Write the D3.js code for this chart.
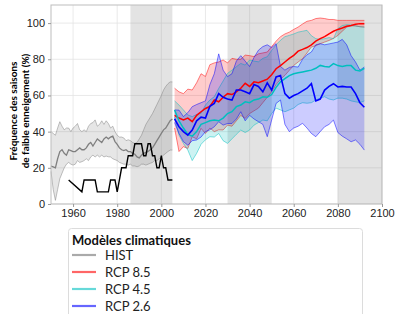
<!DOCTYPE html>
<html>
<head>
<meta charset="utf-8">
<script src="https://cdn.jsdelivr.net/npm/d3@7"></script>
<style>
  body { margin: 0; background: #fff; }
  svg { display: block; }
</style>
</head>
<body>
<svg width="397" height="314"></svg>
<script>
// historical period
var histYears = [1950,1951,1952,1953,1954,1955,1956,1957,1958,1959,
  1960,1961,1962,1963,1964,1965,1966,1967,1968,1969,
  1970,1971,1972,1973,1974,1975,1976,1977,1978,1979,
  1980,1981,1982,1983,1984,1985,1986,1987,1988,1989,
  1990,1991,1992,1993,1994,1995,1996,1997,1998,1999,
  2000,2001,2002,2003,2004,2005]
var histMd = [21,20.5,20,25,29,30,28,27,30,29.5, 29,29,30,31,30,30,31,33,34,32,
  34,36,35,34,36,37,36,37,37.5,34.5, 33,31,30,29.5,30,29,29,28,27.5,26,
  25.5,27,28,28.5,29,30,31,33,35,37, 39,41,42,44,46,47]
var histHi = [40,39,38,42,45.5,43,41,42,42,40, 42,43,44.5,41,40,41,40,43,44.5,45,
  46.5,43,44,46,44,46,44.5,42,43,40, 38,37,37,36.5,35,35.5,35,34,33.5,34,
  36,38,41,44,46,48,50,52.5,55,57.5, 60,63,65,66.5,67.5,67.5]
var histLo = [18,8,2,8,14,17,20,22,23,22, 21.5,22,24,23,23.4,24,25,24,26,27,
  26,27,26,27,26,26.5,26.1,26,25,24.5, 24,23,22.5,22,22,21.5,22,21,21,20.6,
  21,22,22,21.5,22,22.5,23,24,24,25, 26,27,28,29,29.8,29.8]

// observations
var obsYears = [1958,1964,1965,1966,1967,1968,1969,1970,1971,1972,1973,1974,1975,1976,
  1977,1978,1979,1980,1981,1982,1983,1984,1985,1986,1987,1988,1989,1990,1991,
  1992,1993,1994,1995,1996,1997,1998,1999,2000,2001,2002,2003,2004,2005]
var obsVals = [13.3,6.7,13.3,13.3,13.3,13.3,13.3,13.3,6.7,6.7,6.7,6.7,6.7,6.7,
  13.3,13.3,13.3,6.7,13.3,20,20,20,26.7,26.7,26.7,33.3,33.3,33.3,33.3,
  26.7,26.7,33.3,33.3,26.7,26.7,20,20,26.7,20,20,13.3,13.3,13.3]

// projections
var futYears = [2006,2008,2010,2012,2014,2016,2018,2020,2022,2024,2026,2028,2030,2032,2034,
  2036,2038,2040,2042,2044,2046,2048,2050,2052,2054,2056,2058,2060,2062,2064,
  2066,2068,2070,2072,2074,2076,2078,2080,2082,2084,2086,2088,2090,2092]

var rcp85Hi = [64,62,61,63.5,63,67,72,70.5,77,78,78.5,79.6,78,80.5,80,80,82.3,82,81.5,83,
  83.5,84,87,90,92.5,94,95,96.5,97.8,99.5,101,101.5,102.5,102.8,102.5,102,102,101.5,101.5,101.5,
  101.5,101.5,101.5,101.5]
var rcp85Md = [49,47.5,46.5,47.5,45.5,49,51,52.8,54,57.5,56.5,59,61,60.5,62,64,66.7,65,67.5,67,
  68,69,71.5,74.8,76.5,78.5,80.5,82.2,84.5,85.5,86.5,88,90,91.4,92.5,94.1,95.5,96.5,97.3,98.2,
  98.7,99.3,99.7,99.7]
var rcp85Lo = [42,29,31.7,30.7,37.2,36,41.8,39,42,40,41,40.9,43.6,43,46,49,47.3,50,51.5,53,
  56,59,62,66,69,71.1,73.9,76.6,78.5,80.3,83.5,86.8,87.5,88.6,89.5,90.4,91.5,93.2,95.5,97.8,
  98.5,98.4,98,97.8]

var rcp45Hi = [57,54.7,52,49.2,48.3,49.5,50.1,54.7,57.5,59.3,63.9,68,72.2,74,75.9,77.7,76.8,79.6,79,78.6,
  80.5,81.4,84.9,88,90.5,92.5,93.2,94,95,95.5,96,93,91.4,91,91.4,92,91.4,96.9,98.7,99.1,
  99,98.5,98,97.8]
var rcp45Md = [52,46,42,38.5,37.5,40,44,45,46,46.4,46,47.5,50,51,53.8,54.7,56.5,56,57.5,58,
  59.3,59,60.5,64.5,67.5,69.3,71,72,72.5,73,73.5,74,75,76.6,76,75.7,77.6,76.5,76,76.5,
  76.5,74,73.5,75]
var rcp45Lo = [48,38,33.5,29.8,24,28,33,35.5,37.2,37,39,35,33.5,36,38.5,40.9,39.5,40.9,43.6,45,
  46.4,46,50,53,52,51,52,53,55,56,55.7,56,57.5,58.5,59.3,58,57.5,58.5,58.5,58,
  57,56.5,56,57]

var rcp26Hi = [52,51.9,48.3,50.5,53.8,55,56,57,66,72,83,74,70.4,72,79,82,79,76,81,85,
  87,88,86.5,88.6,76,74,75.5,76,75.7,80,82.5,84,88,88.6,88,88.5,89,89.5,91,88,
  82,78.5,74,75.7]
var rcp26Md = [47,42.7,40,38.1,40.9,46,48,47.5,54,55.6,61,59,58,57.5,63,63,62,61,66,65,
  62,67,63,70.2,71,61,58.5,60,61,62.5,64,66.5,57,58,63,65,66.5,64.7,65,64.7,
  64.7,61,56,53.5]
var rcp26Lo = [45,39,34.5,32.5,35,35.4,37,40,41,42.7,45.5,43.6,44.5,44.5,47,51,46,49,47,45.5,
  44,37.2,46.4,55.6,57.5,44,40,42,43,44.6,42,39,37.2,40,42.7,44,46.4,39.5,37.5,36,
  34.4,35.4,33,29.8]

var xTicks = [1960,1980,2000,2020,2040,2060,2080,2100]
var yTicks = [0,20,40,60,80,100]
var periods = [[1986,2005],[2030,2050],[2080,2100]]

var legendNames = ["HIST","RCP 8.5","RCP 4.5","RCP 2.6"]
var legendColors = ["#aaaaaa","#ff6666","#66d9d9","#6666ff"]

var svg = d3.select("svg")
var x = d3.scaleLinear().domain([1950,2100]).range([51,382])
var y = d3.scaleLinear().domain([0,110]).range([204,5])

// grid
svg.append("g").selectAll("line").data(xTicks).join("line")
  .attr("x1", d => x(d)).attr("x2", d => x(d))
  .attr("y1", y(110)).attr("y2", y(0))
  .attr("stroke", "#e3e3e3").attr("stroke-width", 0.8)
svg.append("g").selectAll("line").data(yTicks).join("line")
  .attr("x1", x(1950)).attr("x2", x(2100))
  .attr("y1", d => y(d)).attr("y2", d => y(d))
  .attr("stroke", "#e3e3e3").attr("stroke-width", 0.8)

// reference periods
svg.append("g").selectAll("rect").data(periods).join("rect")
  .attr("x", d => x(d[0])).attr("width", d => x(d[1]) - x(d[0]))
  .attr("y", y(110)).attr("height", y(0) - y(110))
  .attr("fill", "#808080").attr("fill-opacity", 0.22)

function rows(years, lo, md, hi){
  return years.map(function(d,i){ return {year: d, lo: lo[i], md: md[i], hi: hi[i]} })
}

var series = [
  {rows: rows(histYears, histLo, histMd, histHi), color: "#808080", med: "#808080", mw: 1.3},
  {rows: rows(futYears, rcp85Lo, rcp85Md, rcp85Hi), color: "#ff0000", med: "#ff0000", mw: 1.5},
  {rows: rows(futYears, rcp45Lo, rcp45Md, rcp45Hi), color: "#00bfbf", med: "#00bfbf", mw: 1.5},
  {rows: rows(futYears, rcp26Lo, rcp26Md, rcp26Hi), color: "#0000ff", med: "#0000ff", mw: 1.6}
]

var area = d3.area().x(d => x(d.year)).y0(d => y(d.lo)).y1(d => y(d.hi))
var lineLo = d3.line().x(d => x(d.year)).y(d => y(d.lo))
var lineHi = d3.line().x(d => x(d.year)).y(d => y(d.hi))
var lineMd = d3.line().x(d => x(d.year)).y(d => y(d.md))

series.forEach(function(s){
  svg.append("path").attr("d", area(s.rows))
    .attr("fill", s.color).attr("fill-opacity", 0.2)
  svg.append("path").attr("d", lineLo(s.rows))
    .attr("fill", "none").attr("stroke", s.color).attr("stroke-opacity", 0.55).attr("stroke-width", 0.9)
  svg.append("path").attr("d", lineHi(s.rows))
    .attr("fill", "none").attr("stroke", s.color).attr("stroke-opacity", 0.55).attr("stroke-width", 0.9)
})
series.forEach(function(s){
  svg.append("path").attr("d", lineMd(s.rows))
    .attr("fill", "none").attr("stroke", s.med).attr("stroke-width", s.mw)
})

// observed
var obs = obsYears.map(function(d,i){ return {year: d, v: obsVals[i]} })
svg.append("path")
  .attr("d", d3.line().x(d => x(d.year)).y(d => y(d.v))(obs))
  .attr("fill", "none").attr("stroke", "#000").attr("stroke-width", 1.4)

// frame
svg.append("rect").attr("x", x(1950)).attr("y", y(110))
  .attr("width", x(2100) - x(1950)).attr("height", y(0) - y(110))
  .attr("fill", "none").attr("stroke", "#bdbdbd").attr("stroke-width", 1)

// axes
var xAxis = svg.append("g").attr("transform", "translate(0," + y(0) + ")")
  .call(d3.axisBottom(x).tickValues(xTicks).tickFormat(d3.format("d")).tickSize(3).tickPadding(2))
var yAxis = svg.append("g").attr("transform", "translate(" + x(1950) + ",0)")
  .call(d3.axisLeft(y).tickValues(yTicks).tickSize(3).tickPadding(3))
;[xAxis, yAxis].forEach(function(a){
  a.select(".domain").remove()
  a.selectAll("line").attr("stroke", "#999")
  a.selectAll("text").attr("fill", "#222").style("font-family", "Liberation Sans, Arial, sans-serif").style("font-size", "11px")
})

// y label
svg.append("text").attr("transform", "translate(17,111) rotate(-90)")
  .attr("text-anchor", "middle")
  .style("font-family", "Lato, sans-serif").style("font-weight", "bold").style("font-size", "10px")
  .text("Fréquence des saisons")
svg.append("text").attr("transform", "translate(29,111) rotate(-90)")
  .attr("text-anchor", "middle")
  .style("font-family", "Lato, sans-serif").style("font-weight", "bold").style("font-size", "10px")
  .text("de faible enneigement (%)")

// legend
var lg = svg.append("g")
lg.append("rect").attr("x", 68.5).attr("y", 228.5).attr("width", 294).attr("height", 100)
  .attr("rx", 3).attr("fill", "#fff").attr("stroke", "#dcdcdc")
lg.append("text").attr("x", 72).attr("y", 245)
  .style("font-family", "Lato, sans-serif").style("font-weight", "bold").style("font-size", "13px")
  .attr("fill", "#111").text("Modèles climatiques")
legendNames.forEach(function(n,i){
  var ly = 255 + i * 17
  lg.append("line").attr("x1", 72).attr("x2", 96).attr("y1", ly).attr("y2", ly)
    .attr("stroke", legendColors[i]).attr("stroke-width", 2.2)
  lg.append("text").attr("x", 105).attr("y", ly + 4.5)
    .style("font-family", "Lato, sans-serif").style("font-size", "13px")
    .attr("fill", "#222").text(n)
})
</script>
</body>
</html>
